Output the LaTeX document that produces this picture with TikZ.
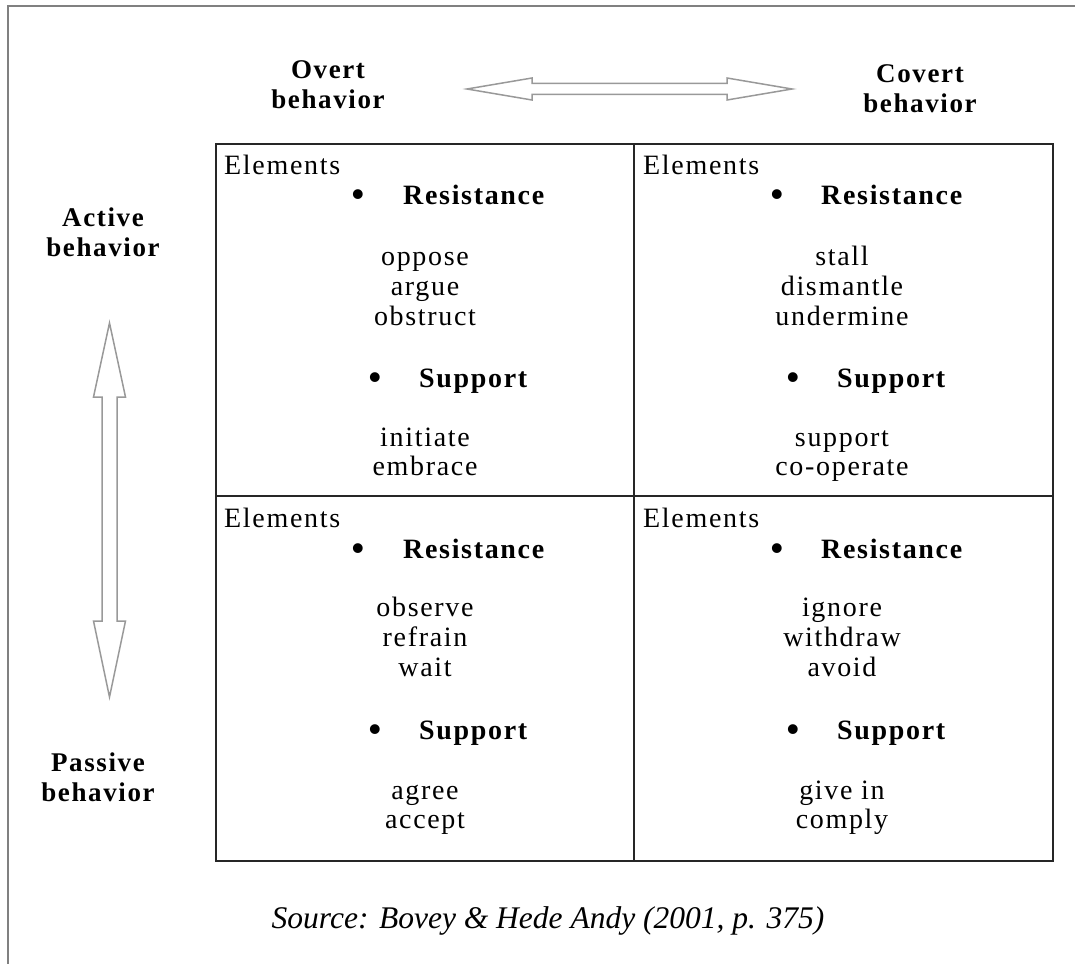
\documentclass[tikz,border=0pt]{standalone}
\usepackage{fontspec}
\setmainfont{Liberation Serif}[LetterSpace=6]
\newfontfamily\srcfont{Liberation Serif}
\begin{document}
\begin{tikzpicture}[x=1pt,y=-1pt,
  lbl/.style={font=\bfseries\fontsize{27}{30}\selectfont, align=center, inner sep=0pt},
  elem/.style={font=\fontsize{28}{30}\selectfont, anchor=base west, inner sep=0pt},
  head/.style={font=\bfseries\fontsize{28}{30}\selectfont, anchor=base west, inner sep=0pt},
  bul/.style={font=\bfseries\fontsize{36}{30}\selectfont, anchor=base, inner sep=0pt},
  word/.style={font=\fontsize{28}{30}\selectfont, anchor=base, inner sep=0pt},
  gridline/.style={draw=black!85, line width=2pt},
  framebox/.style={draw=black!50, line width=2.5pt},
  dblarrow/.style={draw=black!40, line width=1.5pt, fill=white, line join=miter}]
\useasboundingbox (0,0) rectangle (1075,963);
% outer frame
\draw[framebox] (8,970) -- (8,6) -- (1080,6);
% labels
\node[lbl] (overt) at (328,85) {Overt\\behavior};
\node[lbl] (covert) at (920,89) {Covert\\behavior};
\node[lbl] (active) at (103,232) {Active\\behavior};
\node[lbl] (passive) at (98,777) {Passive\\behavior};
% double arrows
\draw[dblarrow] (467,89) -- (532,78) -- (532,83.5) -- (727,83.5) -- (727,78) -- (792,89)
  -- (727,100) -- (727,94.5) -- (532,94.5) -- (532,100) -- cycle;
\draw[dblarrow] (109.5,323) -- (125.5,397) -- (117,397) -- (117,621) -- (125.5,621) -- (109.5,697)
  -- (93.5,621) -- (102,621) -- (102,397) -- (93.5,397) -- cycle;
% grid
\draw[gridline] (216,144) rectangle (1053,861);
\draw[gridline] (634,144) -- (634,861);
\draw[gridline] (216,496) -- (1053,496);
% cell TL
\begin{scope}[shift={(216,144)}]
\node[elem] (e1) at (8,30) {Elements};
\node[bul] (b1r) at (142,62) {•};
\node[head] (r1) at (187,60) {Resistance};
\node[word] (w11) at (209,121) {oppose};
\node[word] (w12) at (209,151) {argue};
\node[word] (w13) at (209,181) {obstruct};
\node[bul] (b1s) at (159,245) {•};
\node[head] (s1) at (203,243) {Support};
\node[word] (w14) at (209,302) {initiate};
\node[word] (w15) at (209,331) {embrace};
\end{scope}
% cell TR
\begin{scope}[shift={(634,144)}]
\node[elem] (e2) at (9,30) {Elements};
\node[bul] (b2r) at (143,62) {•};
\node[head] (r2) at (187,60) {Resistance};
\node[word] (w21) at (208,121) {stall};
\node[word] (w22) at (208,151) {dismantle};
\node[word] (w23) at (208,181) {undermine};
\node[bul] (b2s) at (159,245) {•};
\node[head] (s2) at (203,243) {Support};
\node[word] (w24) at (208,302) {support};
\node[word] (w25) at (208,331) {co-operate};
\end{scope}
% cell BL
\begin{scope}[shift={(216,496)}]
\node[elem] (e3) at (8,31) {Elements};
\node[bul] (b3r) at (142,64) {•};
\node[head] (r3) at (187,62) {Resistance};
\node[word] (w31) at (209,120) {observe};
\node[word] (w32) at (209,150) {refrain};
\node[word] (w33) at (209,180) {wait};
\node[bul] (b3s) at (159,245) {•};
\node[head] (s3) at (203,243) {Support};
\node[word] (w34) at (209,303) {agree};
\node[word] (w35) at (209,332) {accept};
\end{scope}
% cell BR
\begin{scope}[shift={(634,496)}]
\node[elem] (e4) at (9,31) {Elements};
\node[bul] (b4r) at (143,64) {•};
\node[head] (r4) at (187,62) {Resistance};
\node[word] (w41) at (208,120) {ignore};
\node[word] (w42) at (208,150) {withdraw};
\node[word] (w43) at (208,180) {avoid};
\node[bul] (b4s) at (159,245) {•};
\node[head] (s4) at (203,243) {Support};
\node[word] (w44) at (208,303) {give in};
\node[word] (w45) at (208,332) {comply};
\end{scope}
% source
\node[font=\srcfont\itshape\fontsize{31.5}{36}\selectfont, inner sep=0pt] (src) at (548,921) {Source: Bovey \& Hede Andy (2001, p. 375)};
\end{tikzpicture}
\end{document}
